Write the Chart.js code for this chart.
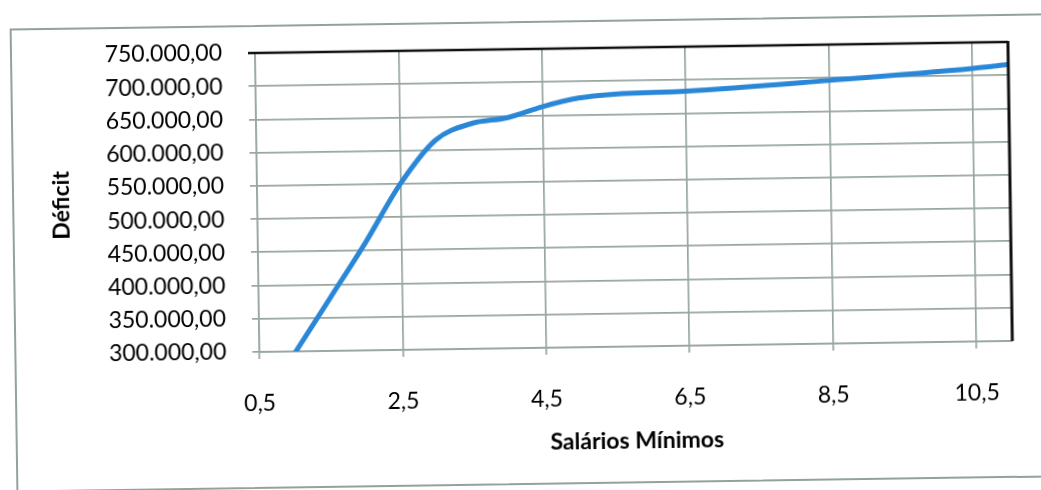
<!DOCTYPE html>
<html lang="pt-BR">
<head>
<meta charset="utf-8">
<title>Déficit por Salários Mínimos</title>
<script src="https://cdn.jsdelivr.net/npm/chart.js@4/dist/chart.umd.min.js"></script>
<style>
  html, body { margin: 0; padding: 0; background: #ffffff; overflow: hidden; }
  #page {
    position: absolute; left: 0; top: 0; width: 1041px; height: 490px;
    transform-origin: 255px 53px; transform: rotate(-0.84deg);
  }
  #frame {
    position: absolute; left: 10px; top: 25px; width: 1120px; height: 464px;
    border: 2px solid #93a39b; box-sizing: border-box;
  }
  canvas { position: absolute; left: 0; top: 0; }
</style>
</head>
<body>
<div id="page">
  <div id="frame"></div>
  <canvas id="grafico" width="1041" height="490"></canvas>
</div>
<script>
// Déficit em função da faixa de renda (em salários mínimos)
const salariosMinimos = [0.5, 1.5, 2.0, 2.5, 3.0, 3.5, 4.0, 4.5, 5.0, 5.5, 6.5, 8.5, 10.5, 11];
const deficit = [217000, 380000, 462000, 550000, 615000, 639000, 647000, 663000, 675000, 680000, 683000, 696000, 711000, 716000];
const xTickValues = [0.5, 2.5, 4.5, 6.5, 8.5, 10.5];
const yMin = 300000;
const yMax = 750000;
const yStep = 50000;

const formatoBR = v => {
  const [inteiro, decimal] = Number(v).toFixed(2).split('.');
  return inteiro.replace(/\B(?=(\d{3})+(?!\d))/g, '.') + ',' + decimal;
};
const formatoX = v => Number(v).toFixed(1).replace('.', ',');

const corGrade = '#98a69f';

// Contorno preto no topo e à direita da área de plotagem
const bordaArea = {
  id: 'bordaArea',
  afterDatasetsDraw(chart) {
    const { ctx, chartArea: a } = chart;
    ctx.save();
    ctx.strokeStyle = '#111111';
    ctx.lineWidth = 2.5;
    ctx.beginPath();
    ctx.moveTo(a.left - 7, a.top);
    ctx.lineTo(a.right, a.top);
    ctx.stroke();
    ctx.lineWidth = 3;
    ctx.beginPath();
    ctx.moveTo(a.right, a.top - 1);
    ctx.lineTo(a.right, a.bottom);
    ctx.stroke();
    ctx.restore();
  }
};

new Chart(document.getElementById('grafico'), {
  type: 'line',
  data: {
    datasets: [{
      data: salariosMinimos.map((x, i) => ({ x, y: deficit[i] })),
      borderColor: '#2a87d7',
      borderWidth: 5,
      pointRadius: 0,
      cubicInterpolationMode: 'monotone',
      fill: false,
      clip: 0
    }]
  },
  options: {
    responsive: false,
    animation: false,
    layout: { padding: { top: 53, right: 33, left: 0, bottom: 0 } },
    plugins: { legend: { display: false }, tooltip: { enabled: false } },
    scales: {
      x: {
        type: 'linear',
        min: 0.5,
        max: 11,
        afterBuildTicks(scale) { scale.ticks = xTickValues.map(v => ({ value: v })); },
        afterFit(scale) { scale.height = 138; },
        grid: { color: corGrade, lineWidth: 1.7, tickLength: 7, tickColor: corGrade },
        border: { color: corGrade, width: 1.7 },
        ticks: {
          padding: 31,
          maxRotation: 0,
          color: '#000000',
          font: { family: 'Lato', size: 23 },
          callback: v => formatoX(v)
        },
        title: {
          display: true,
          text: 'Salários Mínimos',
          color: '#000000',
          font: { family: 'Lato', size: 23, weight: 'bold' },
          padding: { top: 0, bottom: 30 }
        }
      },
      y: {
        min: yMin,
        max: yMax,
        afterFit(scale) { scale.width = 255; },
        grid: { color: corGrade, lineWidth: 1.7, tickLength: 7, tickColor: corGrade },
        border: { color: corGrade, width: 1.7 },
        ticks: {
          stepSize: yStep,
          padding: 26,
          color: '#000000',
          font: { family: 'Lato', size: 23 },
          callback: v => formatoBR(v)
        },
        title: {
          display: true,
          text: 'Déficit',
          color: '#000000',
          font: { family: 'Lato', size: 23, weight: 'bold' },
          padding: { top: 46, bottom: 0 }
        }
      }
    }
  },
  plugins: [bordaArea]
});
</script>
</body>
</html>
